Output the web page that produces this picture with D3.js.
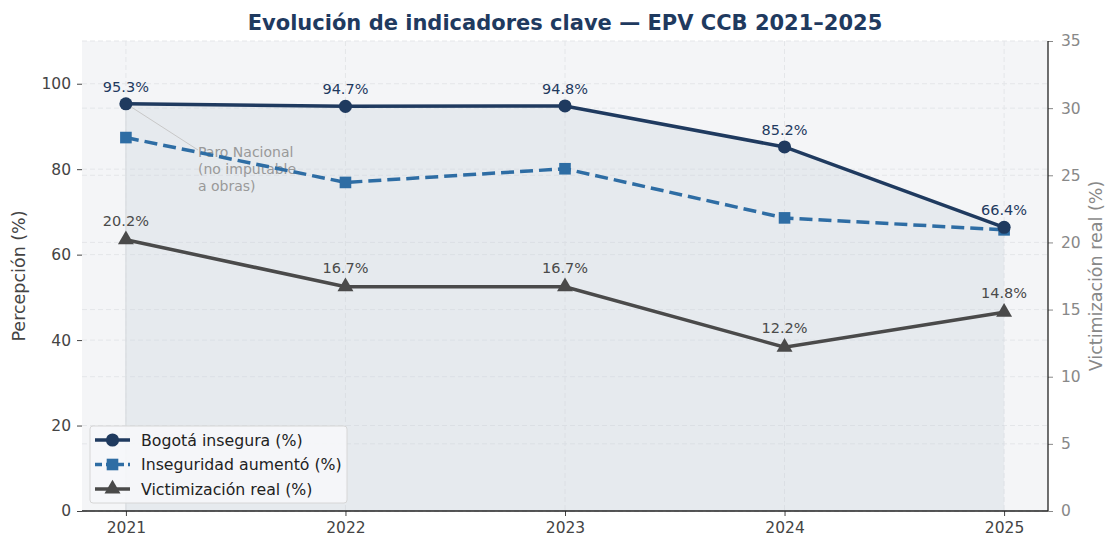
<!DOCTYPE html>
<html>
<head>
<meta charset="utf-8">
<script src="https://cdn.jsdelivr.net/npm/d3@7"></script>
<style>
  body { margin: 0; background: #fff; }
  svg { font-family: "DejaVu Sans", sans-serif; }
</style>
</head>
<body>
<svg></svg>
<script>
const width = 1109
const height = 540

// data
const years = [2021, 2022, 2023, 2024, 2025]
const bogotaInsegura = [95.3, 94.7, 94.8, 85.2, 66.4]
const inseguridadAumento = [87.4, 76.9, 80.1, 68.6, 65.8]
const victimizacion = [20.2, 16.7, 16.7, 12.2, 14.8]
const leftTicks = [0, 20, 40, 60, 80, 100]
const rightTicks = [0, 5, 10, 15, 20, 25, 30, 35]

const m = {left: 82, right: 1048, top: 41, bottom: 511}

const svg = d3.select('svg')
  .attr('width', width)
  .attr('height', height)

const x = d3.scaleLinear().domain([2020.8, 2025.2]).range([m.left, m.right])
const yL = d3.scaleLinear().domain([0, 110]).range([m.bottom, m.top])
const yR = d3.scaleLinear().domain([0, 35]).range([m.bottom, m.top])

const cBog = "#1f3a5f"
const cIns = "#2e6da4"
const cVic = "#4a4a4a"

// plot background
svg.append("rect")
  .attr("x", m.left).attr("y", m.top)
  .attr("width", m.right - m.left).attr("height", m.bottom - m.top)
  .attr("fill", "#f4f5f7")

// grid
const grid = svg.append("g")
grid.selectAll(".gl").data(leftTicks).enter().append("line")
  .attr("x1", m.left).attr("x2", m.right)
  .attr("y1", d => yL(d)).attr("y2", d => yL(d))
  .attr("stroke", "#e4e6e9").attr("stroke-dasharray", "5,3")
grid.selectAll(".gr").data(rightTicks).enter().append("line")
  .attr("x1", m.left).attr("x2", m.right)
  .attr("y1", d => yR(d)).attr("y2", d => yR(d))
  .attr("stroke", "#e4e6e9").attr("stroke-dasharray", "5,3")
grid.selectAll(".gx").data(years).enter().append("line")
  .attr("x1", d => x(d)).attr("x2", d => x(d))
  .attr("y1", m.top).attr("y2", m.bottom)
  .attr("stroke", "#e4e6e9").attr("stroke-dasharray", "5,3")

// area under Bogotá insegura
const areaData = years.map((yr, i) => ({yr: yr, v: bogotaInsegura[i]}))
svg.append("path")
  .datum(areaData)
  .attr("d", d3.area().x(d => x(d.yr)).y0(yL(0)).y1(d => yL(d.v)))
  .attr("fill", "#c8d0da")
  .attr("fill-opacity", 0.3)
svg.append("line")
  .attr("x1", x(years[0])).attr("x2", x(years[0]))
  .attr("y1", yL(bogotaInsegura[0])).attr("y2", m.bottom)
  .attr("stroke", "#dcdfe3").attr("stroke-width", 1.5)

// axes
const axL = svg.append("g")
  .attr("transform", `translate(${m.left},0)`)
  .call(d3.axisLeft(yL).tickValues(leftTicks).tickSize(5).tickPadding(6))
  .attr("font-size", 15.5).attr("font-family", "DejaVu Sans")
axL.select(".domain").remove()
axL.selectAll("line").attr("stroke", "#444")
axL.selectAll("text").attr("fill", "#444")

const axR = svg.append("g")
  .attr("transform", `translate(${m.right},0)`)
  .call(d3.axisRight(yR).tickValues(rightTicks).tickSize(5).tickPadding(8))
  .attr("font-size", 15.5).attr("font-family", "DejaVu Sans")
axR.select(".domain").remove()
axR.selectAll("line").attr("stroke", "#888")
axR.selectAll("text").attr("fill", "#888")
svg.append("line").attr("x1", m.right).attr("x2", m.right)
  .attr("y1", m.top).attr("y2", m.bottom).attr("stroke", "#222").attr("stroke-width", 1.3)

const axB = svg.append("g")
  .attr("transform", `translate(0,${m.bottom})`)
  .call(d3.axisBottom(x).tickValues(years).tickFormat(d3.format("d")).tickSize(5).tickPadding(6))
  .attr("font-size", 15.5).attr("font-family", "DejaVu Sans")
axB.select(".domain").remove()
axB.selectAll("line").attr("stroke", "#444")
axB.selectAll("text").attr("fill", "#444")
svg.append("line").attr("x1", m.left).attr("x2", m.right)
  .attr("y1", m.bottom).attr("y2", m.bottom).attr("stroke", "#222").attr("stroke-width", 1.3)

// axis titles
svg.append("text")
  .attr("transform", `translate(20,${(m.top + m.bottom) / 2}) rotate(-90)`)
  .attr("text-anchor", "middle")
  .attr("dominant-baseline", "middle")
  .style("font-size", "17.5px").attr("fill", "#444")
  .text("Percepción (%)")
svg.append("text")
  .attr("transform", `translate(1097,${(m.top + m.bottom) / 2}) rotate(-90)`)
  .attr("text-anchor", "middle")
  .attr("dominant-baseline", "middle")
  .style("font-size", "17.5px").attr("fill", "#888")
  .text("Victimización real (%)")

// title
svg.append("text")
  .attr("x", 565).attr("y", 30)
  .attr("text-anchor", "middle")
  .style("font-size", "21px").style("font-weight", "bold")
  .attr("fill", "#1f3a5f")
  .text("Evolución de indicadores clave — EPV CCB 2021–2025")

// annotation
svg.append("line")
  .attr("x1", x(2021) + 5).attr("y1", yL(95.3) + 3)
  .attr("x2", 198).attr("y2", 150)
  .attr("stroke", "#c8c8c8").attr("stroke-width", 1)
const ann = svg.append("text")
  .attr("x", 198).attr("y", 157)
  .style("font-size", "14px").attr("fill", "#999")
;["Paro Nacional", "(no imputable", "a obras)"].forEach((t, i) => {
  ann.append("tspan").attr("x", 198).attr("dy", i === 0 ? 0 : 17).text(t)
})

// series
function drawSeries(vals, y, color, dash, marker) {
  const pts = years.map((yr, i) => ({yr: yr, v: vals[i]}))
  svg.append("path")
    .datum(pts)
    .attr("d", d3.line().x(d => x(d.yr)).y(d => y(d.v)))
    .attr("fill", "none")
    .attr("stroke", color)
    .attr("stroke-width", 3.5)
    .attr("stroke-dasharray", dash)
  svg.append("g").selectAll("path")
    .data(pts).enter().append("path")
    .attr("transform", d => `translate(${x(d.yr)},${y(d.v)})`)
    .attr("d", d3.symbol().type(marker).size(marker === d3.symbolTriangle ? 110 : 135))
    .attr("fill", color)
  return pts
}

const vicPts = drawSeries(victimizacion, yR, cVic, null, d3.symbolTriangle)
drawSeries(inseguridadAumento, yL, cIns, "13,6", d3.symbolSquare)
const bogPts = drawSeries(bogotaInsegura, yL, cBog, null, d3.symbolCircle)

// labels
svg.append("g").selectAll("text")
  .data(bogPts).enter().append("text")
  .attr("x", d => x(d.yr)).attr("y", d => yL(d.v) - 12)
  .attr("text-anchor", "middle")
  .style("font-size", "14.5px").attr("fill", cBog)
  .text(d => d.v.toFixed(1) + "%")
svg.append("g").selectAll("text")
  .data(vicPts).enter().append("text")
  .attr("x", d => x(d.yr)).attr("y", d => yR(d.v) - 14)
  .attr("text-anchor", "middle")
  .style("font-size", "14.5px").attr("fill", cVic)
  .text(d => d.v.toFixed(1) + "%")

// legend
const lg = svg.append("g").attr("transform", "translate(90,426)")
lg.append("rect")
  .attr("width", 257).attr("height", 77).attr("rx", 3)
  .attr("fill", "#f6f7f9").attr("fill-opacity", 0.9)
  .attr("stroke", "#d6d6d6")
const legItems = [
  {name: "Bogotá insegura (%)", color: cBog, dash: null, marker: d3.symbolCircle},
  {name: "Inseguridad aumentó (%)", color: cIns, dash: "7,4", marker: d3.symbolSquare},
  {name: "Victimización real (%)", color: cVic, dash: null, marker: d3.symbolTriangle}
]
legItems.forEach((it, i) => {
  const gy = 14 + i * 24.5
  lg.append("line")
    .attr("x1", 5).attr("x2", 40).attr("y1", gy).attr("y2", gy)
    .attr("stroke", it.color).attr("stroke-width", 3.5)
    .attr("stroke-dasharray", it.dash)
  lg.append("path")
    .attr("transform", `translate(22.5,${gy})`)
    .attr("d", d3.symbol().type(it.marker).size(it.marker === d3.symbolTriangle ? 110 : 135))
    .attr("fill", it.color)
  lg.append("text")
    .attr("x", 51).attr("y", gy)
    .attr("dominant-baseline", "central")
    .style("font-size", "15.75px").attr("fill", "#222")
    .text(it.name)
})
</script>
</body>
</html>
